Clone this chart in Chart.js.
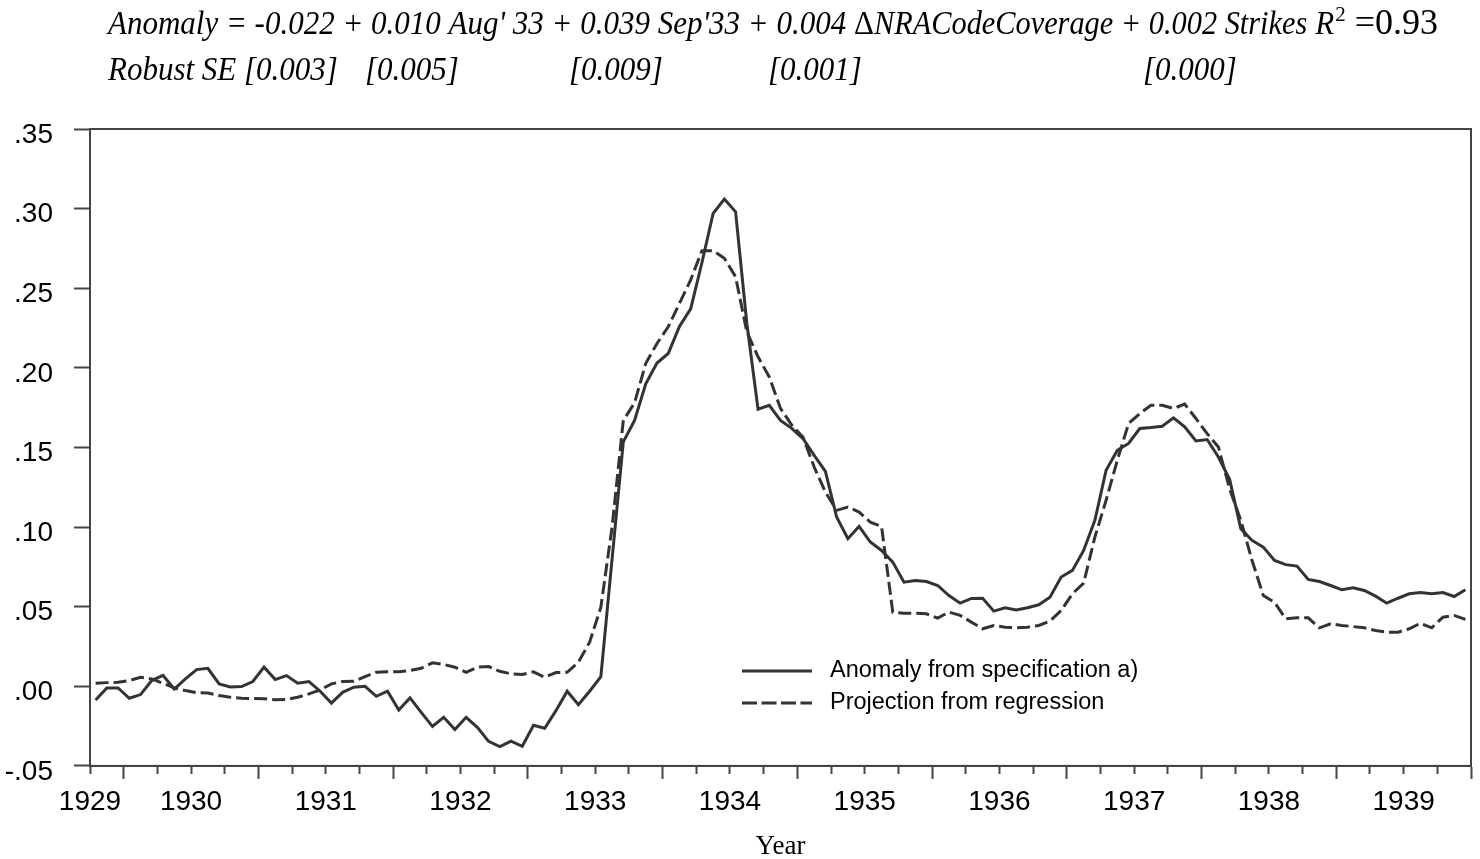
<!DOCTYPE html>
<html lang="en">
<head>
	<meta charset="UTF-8">
	<title>Anomaly and projection, 1929-1939</title>
	<script src="https://cdn.jsdelivr.net/npm/chart.js@4.4.0/dist/chart.umd.min.js"></script>
	<style>
		html, body { margin: 0; padding: 0; background: #fff; }
	</style>
</head>
<body>
	<canvas id="lineChart" width="1480" height="859"></canvas>

	<script>
		// monthly series, Oct 1929 .. Dec 1939
		var firstYear = 1929, firstMonth = 10, monthCount = 123;

		var anomaly = [
			-0.0086, -0.0010, -0.0010,
			-0.0075, -0.0052, 0.0036, 0.0069, -0.0017, 0.0046, 0.0105, 0.0113, 0.0015, -0.0004, -0.0002, 0.0030,
			0.0120, 0.0042, 0.0067, 0.0019, 0.0030, -0.0031, -0.0105, -0.0038, -0.0006, 0.0000, -0.0063, -0.0031,
			-0.0149, -0.0073, -0.0164, -0.0252, -0.0195, -0.0272, -0.0195, -0.0258, -0.0346, -0.0379, -0.0344, -0.0377,
			-0.0245, -0.0264, -0.0153, -0.0031, -0.0115, -0.0031, 0.0061, 0.0800, 0.1535, 0.1670, 0.1900, 0.2030,
			0.2090, 0.2260, 0.2370, 0.2660, 0.2970, 0.3060, 0.2980, 0.2280, 0.1740, 0.1765, 0.1670, 0.1620,
			0.1556, 0.1450, 0.1350, 0.1063, 0.0927, 0.1004, 0.0906, 0.0853, 0.0780, 0.0654, 0.0665, 0.0658,
			0.0633, 0.0570, 0.0522, 0.0552, 0.0553, 0.0472, 0.0493, 0.0480, 0.0493, 0.0512, 0.0560, 0.0686,
			0.0728, 0.0853, 0.1042, 0.1357, 0.1482, 0.1525, 0.1619, 0.1625, 0.1633, 0.1686, 0.1629, 0.1541,
			0.1550, 0.1440, 0.1300, 0.0990, 0.0916, 0.0874, 0.0790, 0.0764, 0.0755, 0.0671, 0.0658, 0.0633,
			0.0606, 0.0619, 0.0602, 0.0566, 0.0522, 0.0553, 0.0581, 0.0589, 0.0581, 0.0589, 0.0564, 0.0606
		];

		var projection = [
			0.0019, 0.0023, 0.0025,
			0.0036, 0.0057, 0.0046, 0.0019, -0.0010, -0.0027, -0.0040, -0.0042, -0.0058, -0.0069, -0.0075, -0.0077,
			-0.0079, -0.0084, -0.0082, -0.0069, -0.0048, -0.0023, 0.0015, 0.0030, 0.0031, 0.0061, 0.0088, 0.0092,
			0.0092, 0.0099, 0.0113, 0.0147, 0.0137, 0.0120, 0.0088, 0.0120, 0.0124, 0.0094, 0.0078, 0.0074,
			0.0091, 0.0057, 0.0086, 0.0088, 0.0151, 0.0277, 0.0497, 0.1000, 0.1670, 0.1780, 0.2028, 0.2153,
			0.2258, 0.2405, 0.2552, 0.2736, 0.2736, 0.2688, 0.2572, 0.2226, 0.2069, 0.1943, 0.1745, 0.1640,
			0.1566, 0.1377, 0.1220, 0.1105, 0.1126, 0.1094, 0.1031, 0.1004, 0.0466, 0.0459, 0.0459, 0.0455,
			0.0428, 0.0466, 0.0445, 0.0403, 0.0361, 0.0382, 0.0371, 0.0367, 0.0371, 0.0382, 0.0409, 0.0476,
			0.0581, 0.0648, 0.0937, 0.1168, 0.1420, 0.1650, 0.1713, 0.1765, 0.1765, 0.1745, 0.1772, 0.1682,
			0.1587, 0.1503, 0.1240, 0.1042, 0.0790, 0.0570, 0.0528, 0.0424, 0.0430, 0.0430, 0.0367, 0.0392,
			0.0382, 0.0375, 0.0367, 0.0350, 0.0340, 0.0340, 0.0361, 0.0396, 0.0367, 0.0434, 0.0445, 0.0420
		];

		var seriesNames = ['Anomaly from specification a)', 'Projection from regression'];

		var yearLabels = ['1929', '1930', '1931', '1932', '1933', '1934', '1935', '1936', '1937', '1938', '1939'];
		var yTickValues = [-0.05, 0, 0.05, 0.10, 0.15, 0.20, 0.25, 0.30, 0.35];
		var yTickLabels = ['-.05', '.00', '.05', '.10', '.15', '.20', '.25', '.30', '.35'];

		// equation above the plot: head, delta, middle, tail
		var eqHead = 'Anomaly = -0.022 + 0.010 Aug\' 33 + 0.039 Sep\'33 + 0.004 ';
		var eqDelta = '\u0394';
		var eqMiddle = 'NRACodeCoverage + 0.002 Strikes';
		var eqR = 'R', eqSup = '2', eqTail = ' =0.93';
		var titleLine2 = [
			['Robust SE [0.003]', 108],
			['[0.005]', 365],
			['[0.009]', 569],
			['[0.001]', 768],
			['[0.000]', 1143]
		];

		// x position of each month (decimal year, middle of the month)
		var monthPos = [];
		for (var i = 0; i < monthCount; i++) {
			var m = firstMonth - 1 + i;
			monthPos.push(firstYear + Math.floor(m / 12) + ((m % 12) + 0.5) / 12);
		}
		var xMin = firstYear + (firstMonth - 1) / 12;
		var xMax = 1940;

		function toPoints(arr) {
			return arr.map(function (v, i) { return { x: monthPos[i], y: v }; });
		}

		// first year has no middle inside the axis, its label sits at the left edge
		function yearLabelPos(label) {
			var y = +label;
			return y + 0.5 < xMin ? xMin : y + 0.5;
		}

		var lineColor = '#333333';
		var frameColor = '#444444';

		var titlePlugin = {
			id: 'eqTitle',
			afterDraw: function (chart) {
				var ctx = chart.ctx;
				var italic = 'italic 33px "Liberation Serif"';
				var upright = '33px "Liberation Serif"';
				var tailFont = '36px "Liberation Serif"';
				var supFont = '21px "Liberation Serif"';
				var base1 = 34, base2 = 80, left = 108, right = 1437;

				function put(text, font, x, y, s) {
					ctx.font = font;
					var w = ctx.measureText(text).width;
					ctx.save();
					ctx.translate(x, y);
					ctx.scale(s, 1);
					ctx.fillText(text, 0, 0);
					ctx.restore();
					return x + w * s;
				}
				function width(text, font) {
					ctx.font = font;
					return ctx.measureText(text).width;
				}

				ctx.save();
				ctx.fillStyle = '#000';
				ctx.textBaseline = 'alphabetic';
				var sx = 746 / width(eqHead, italic);

				var x = put(eqHead, italic, left, base1, sx);
				x = put(eqDelta, upright, x, base1, sx);

				// tail is right-aligned, the middle part is squeezed in between
				var tailW = width(eqR, italic) * sx + width(eqSup, supFont) + width(eqTail, tailFont);
				var rX = right - tailW;
				var midS = (rX - 8 - x) / width(eqMiddle, italic);
				put(eqMiddle, italic, x, base1, midS);
				x = put(eqR, italic, rX, base1, sx);
				x = put(eqSup, supFont, x + 1, base1 - 13, 1);
				put(eqTail, tailFont, x, base1, 1);

				titleLine2.forEach(function (p) {
					put(p[0], italic, p[1], base2, sx);
				});
				ctx.restore();
			}
		};

		var framePlugin = {
			id: 'frame',
			afterDatasetsDraw: function (chart) {
				var a = chart.chartArea, ctx = chart.ctx;
				ctx.save();
				ctx.strokeStyle = frameColor;
				ctx.lineWidth = 2;
				ctx.strokeRect(a.left, a.top, a.right - a.left, a.bottom - a.top);
				ctx.restore();
			}
		};

		var legendPlugin = {
			id: 'boxLegend',
			afterDraw: function (chart) {
				var a = chart.chartArea, ctx = chart.ctx;
				var rows = [
					{ y: a.top + 542, dash: [] },
					{ y: a.top + 574, dash: [15, 4.5] }
				];
				ctx.save();
				ctx.font = '23.5px "Liberation Sans"';
				ctx.textBaseline = 'middle';
				rows.forEach(function (r, k) {
					var ds = chart.data.datasets[k];
					ctx.strokeStyle = ds.borderColor;
					ctx.lineWidth = 3;
					ctx.setLineDash(r.dash);
					ctx.beginPath();
					ctx.moveTo(a.left + 652, r.y);
					ctx.lineTo(a.left + 722, r.y);
					ctx.stroke();
					ctx.fillStyle = '#000';
					ctx.fillText(ds.label, a.left + 740, r.y);
				});
				ctx.restore();
			}
		};

		var ctx = document.querySelector('#lineChart');
		var lineChart = new Chart(ctx, {
			type: 'line',
			data: {
				datasets: [{
						label: seriesNames[0],
						data: toPoints(anomaly),
						borderColor: lineColor,
						borderWidth: 3,
						pointRadius: 0,
						tension: 0,
						fill: false
					},
					{
						label: seriesNames[1],
						data: toPoints(projection),
						borderColor: lineColor,
						borderWidth: 3,
						borderDash: [13, 5],
						pointRadius: 0,
						tension: 0,
						fill: false
					}
				]
			},
			plugins: [titlePlugin, framePlugin, legendPlugin],
			options: {
				responsive: false,
				animation: false,
				layout: {
					padding: { top: 129, right: 3, bottom: 1, left: 0 }
				},
				plugins: {
					legend: { display: false },
					title: { display: false },
					tooltip: { enabled: false }
				},
				scales: {
					x: {
						type: 'linear',
						min: xMin,
						max: xMax,
						afterBuildTicks: function (scale) {
							var ticks = [];
							for (var v = xMin; v <= xMax + 1e-6; v += 0.25) {
								ticks.push({ value: Math.round(v * 100) / 100 });
							}
							scale.ticks = ticks;
						},
						ticks: {
							autoSkip: false,
							maxRotation: 0,
							minRotation: 0,
							padding: 9,
							color: '#000',
							font: { family: 'Liberation Sans', size: 28, lineHeight: 1 },
							callback: function (value) {
								for (var k = 0; k < yearLabels.length; k++) {
									if (Math.abs(yearLabelPos(yearLabels[k]) - value) < 1e-6) return yearLabels[k];
								}
								return '';
							}
						},
						grid: {
							drawOnChartArea: false,
							drawTicks: true,
							tickLength: 13,
							tickWidth: 2,
							tickColor: frameColor,
							// whole years get the long tick, quarters a short one
							tickBorderDash: function (c) {
								var v = c.tick ? c.tick.value : 0;
								return Math.abs(v - Math.round(v)) < 1e-6 ? [] : [7, 30];
							}
						},
						border: { color: frameColor, width: 2 },
						title: {
							display: true,
							text: 'Year',
							color: '#000',
							font: { family: 'Liberation Serif', size: 27, lineHeight: 0.8 },
							padding: { top: 11.5, bottom: 0 }
						}
					},
					y: {
						min: -0.05,
						max: 0.35,
						afterBuildTicks: function (scale) {
							scale.ticks = yTickValues.map(function (v) { return { value: v }; });
						},
						afterFit: function (scale) {
							scale.width = 90;
						},
						ticks: {
							padding: 21,
							labelOffset: 6,
							color: '#000',
							font: { family: 'Liberation Sans', size: 28 },
							callback: function (value) {
								var k = yTickValues.findIndex(function (t) { return Math.abs(t - value) < 1e-6; });
								return k >= 0 ? yTickLabels[k] : '';
							}
						},
						grid: {
							drawOnChartArea: false,
							drawTicks: true,
							tickLength: 16,
							tickWidth: 2,
							tickColor: frameColor
						},
						border: { color: frameColor, width: 2 }
					}
				}
			}
		});
	</script>
</body>
</html>
